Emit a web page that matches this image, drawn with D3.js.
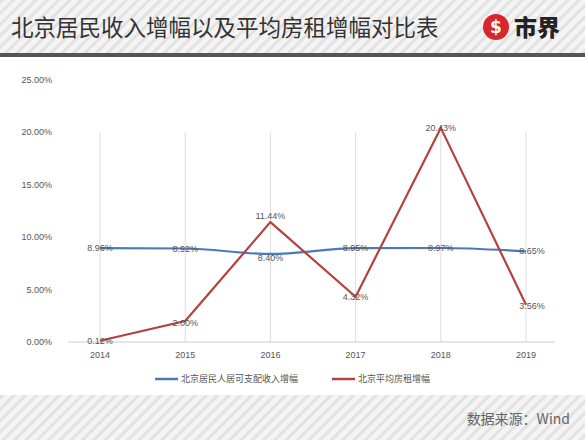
<!DOCTYPE html><html><head><meta charset="utf-8"><script src="https://cdn.jsdelivr.net/npm/d3@7"></script>
<style>body{margin:0}svg{display:block}</style></head><body><svg id="c" width="585" height="440"></svg><script>
const years=["2014","2015","2016","2017","2018","2019"];
const income=[8.96,8.92,8.40,8.95,8.97,8.65];
const rent=[0.12,2.00,11.44,4.32,20.43,3.56];
const yTicks=[0,5,10,15,20,25];
const svg=d3.select("#c");
const defs=svg.append("defs");
const pat=defs.append("pattern").attr("id","st").attr("width",8).attr("height",8).attr("patternUnits","userSpaceOnUse").attr("patternTransform","rotate(45)");
pat.append("rect").attr("width",8).attr("height",8).attr("fill","#f4f4f4");
pat.append("rect").attr("width",3).attr("height",8).attr("fill","#e2e2e2");
svg.append("rect").attr("width",585).attr("height",440).attr("fill","url(#st)");
svg.append("rect").attr("y",57).attr("width",585).attr("height",338).attr("fill","#fff");
svg.append("rect").attr("y",53).attr("width",585).attr("height",4).attr("fill","#555");
svg.append("text").attr("x",11).attr("y",36).attr("font-family","Noto Sans CJK SC").attr("font-size",22.5).attr("fill","#333").text("北京居民收入增幅以及平均房租增幅对比表");
svg.append("circle").attr("cx",496).attr("cy",27).attr("r",13).attr("fill","#d8262c");
svg.append("text").attr("x",496).attr("y",33).attr("text-anchor","middle").attr("font-family","DejaVu Sans").attr("font-weight","bold").attr("font-size",17).attr("fill","#fff").text("$");
svg.append("text").attr("x",514).attr("y",36).attr("font-family","Noto Sans CJK SC").attr("font-weight","900").attr("font-size",23).attr("fill","#222").text("市界");
svg.append("text").attr("x",570).attr("y",424).attr("text-anchor","end").attr("font-family","Noto Sans CJK SC").attr("font-size",14).attr("fill","#666").text("数据来源：Wind");
const x=d3.scalePoint().domain(years).range([100,526]);
const y=d3.scaleLinear().domain([0,25]).range([342,80]);
const f="Liberation Sans";
svg.append("g").selectAll("line").data(years).join("line").attr("x1",d=>x(d)).attr("x2",d=>x(d)).attr("y1",y(20)).attr("y2",342).attr("stroke","#ddd");
svg.append("line").attr("x1",68).attr("x2",555).attr("y1",342).attr("y2",342).attr("stroke","#ccc");
svg.append("g").selectAll("text").data(yTicks).join("text").attr("x",52).attr("y",d=>y(d)+3).attr("text-anchor","end").attr("font-family",f).attr("font-size",9).attr("fill","#555").text(d=>d.toFixed(2)+"%");
svg.append("g").selectAll("text").data(years).join("text").attr("x",d=>x(d)).attr("y",358).attr("text-anchor","middle").attr("font-family",f).attr("font-size",9).attr("fill","#555").text(d=>d);
svg.append("path").datum(income).attr("fill","none").attr("stroke","#4a7ab8").attr("stroke-width",2.2)
 .attr("d",d3.line().x((d,i)=>x(years[i])).y(d=>y(d)).curve(d3.curveMonotoneX));
svg.append("path").datum(rent).attr("fill","none").attr("stroke","#b5413f").attr("stroke-width",2.2)
 .attr("d",d3.line().x((d,i)=>x(years[i])).y(d=>y(d)));
const lab=(arr,dy)=>svg.append("g").selectAll("text").data(arr).join("text").attr("x",(d,i)=>x(years[i])+(i==5?6:0)).attr("y",(d,i)=>y(d)+dy(i)).attr("text-anchor","middle").attr("font-family",f).attr("font-size",9).attr("fill","#555").text(d=>d.toFixed(2)+"%");
lab(income,i=>i==2?7:3);
lab(rent,i=>[3,5,-3,3,3,4][i]);
const lg=svg.append("g").attr("font-family","Noto Sans CJK SC").attr("font-size",9).attr("fill","#555");
lg.append("line").attr("x1",155).attr("x2",178).attr("y1",379).attr("y2",379).attr("stroke","#4a7ab8").attr("stroke-width",2.5);
lg.append("text").attr("x",181).attr("y",382).text("北京居民人居可支配收入增幅");
lg.append("line").attr("x1",332).attr("x2",355).attr("y1",379).attr("y2",379).attr("stroke","#b5413f").attr("stroke-width",2.5);
lg.append("text").attr("x",358).attr("y",382).text("北京平均房租增幅");
</script></body></html>
